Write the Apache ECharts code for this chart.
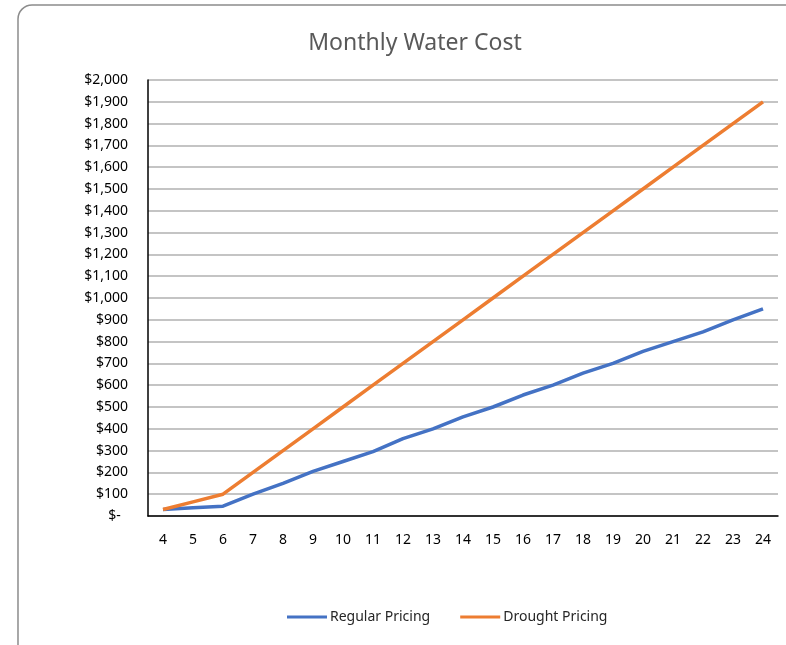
<!DOCTYPE html>
<html>
<head>
<meta charset="utf-8">
<script src="https://cdn.jsdelivr.net/npm/echarts@6/dist/echarts.min.js"></script>
<style>
  html, body { margin: 0; padding: 0; background: #fff; }
  #chart { width: 786px; height: 645px; }
</style>
</head>
<body>
<div id="chart"></div>
<script>
const months = ['4', '5', '6', '7', '8', '9', '10', '11', '12', '13', '14', '15', '16', '17', '18', '19', '20', '21', '22', '23', '24'];
const regularPricing = [30, 38, 45, 100, 150, 205, 250, 295, 355, 400, 455, 500, 555, 600, 655, 700, 755, 800, 845, 900, 950];
const droughtPricing = [30, 65, 100, 200, 300, 400, 500, 600, 700, 800, 900, 1000, 1100, 1200, 1300, 1400, 1500, 1600, 1700, 1800, 1900];

const chart = echarts.init(document.getElementById('chart'));

// accounting-style money labels
function money(v) {
  if (v === 0) return '$-  ';
  return '$' + v.toLocaleString('en-US');
}

chart.setOption({
  animation: false,
  textStyle: { fontFamily: 'Noto Sans' },
  graphic: [{
    type: 'rect',
    shape: { x: 18, y: 5, width: 800, height: 680, r: 14 },
    style: { fill: 'none', stroke: '#8c8c8c', lineWidth: 1.5 },
    silent: true
  }],
  title: {
    text: 'Monthly Water Cost',
    left: 410,
    top: 27,
    textAlign: 'center',
    textStyle: { fontSize: 23, fontWeight: 'normal', color: '#595959', fontFamily: 'Noto Sans' }
  },
  legend: {
    top: 605,
    left: 282,
    itemWidth: 40,
    itemGap: 30,
    icon: 'rect',
    itemHeight: 3,
    textStyle: { fontSize: 14, color: '#262626', padding: [0, 0, 0, -2] },
    data: ['Regular Pricing', 'Drought Pricing']
  },
  grid: { left: 148, right: 8, top: 80, bottom: 129, containLabel: false },
  xAxis: {
    type: 'category',
    data: months,
    boundaryGap: true,
    axisLine: { lineStyle: { color: '#000', width: 1.5 } },
    axisTick: { show: false },
    axisLabel: { color: '#000', fontSize: 14, margin: 17 }
  },
  yAxis: {
    type: 'value',
    min: 0,
    max: 2000,
    interval: 100,
    axisLine: { show: true, lineStyle: { color: '#000', width: 1.5 } },
    axisTick: { show: false },
    splitLine: { lineStyle: { color: '#b0b0b0', width: 1.5 } },
    axisLabel: { color: '#000', fontSize: 14, margin: 20, formatter: money }
  },
  series: [
    {
      name: 'Regular Pricing',
      type: 'line',
      data: regularPricing,
      symbol: 'none',
      lineStyle: { color: '#4472c4', width: 3.5 },
      itemStyle: { color: '#4472c4' }
    },
    {
      name: 'Drought Pricing',
      type: 'line',
      data: droughtPricing,
      symbol: 'none',
      lineStyle: { color: '#ed7d31', width: 3.5 },
      itemStyle: { color: '#ed7d31' }
    }
  ]
});
</script>
</body>
</html>
